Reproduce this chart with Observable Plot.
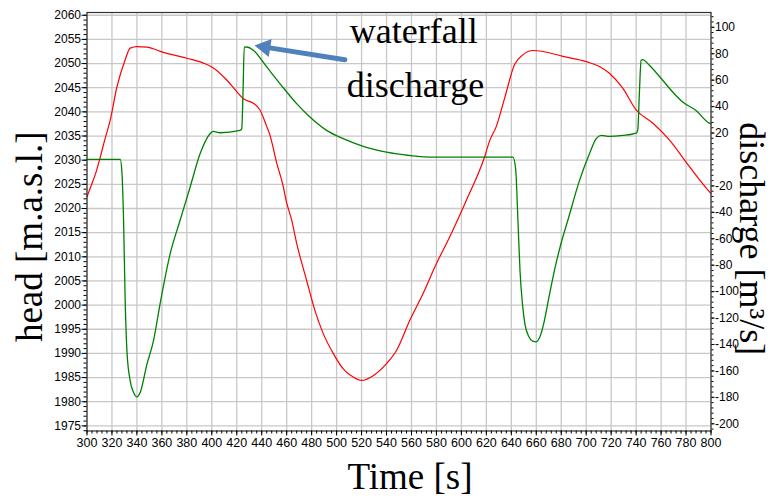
<!DOCTYPE html>
<html><head><meta charset="utf-8">
<script src="https://cdn.jsdelivr.net/npm/d3@7"></script>
<script src="https://cdn.jsdelivr.net/npm/@observablehq/plot@0.6"></script>
<style>html,body{margin:0;padding:0;background:#fff}#chart svg{display:block}</style>
</head><body><div id="chart"></div>
<script>
// head [m.a.s.l.] (red, left axis)
const headTime = [300,303,306.6,310.7,314,318.6,324,330.6,334.6,340,348,361.3,380,393.3,401.3,412,420,425.3,433.3,438.6,444,446.6,452,457.3,459.5,464,468,476,482.6,489.3,497.3,505.3,513.3,520,529.3,540,548,558.6,569.3,580,590.6,604,618.6,622.6,628,634.6,642.6,649.3,657.3,665.3,681.3,700,710.6,718.6,729.3,740,753.3,766.6,782.6,798.6,800];
const headValue = [2022.4,2024.5,2027,2030.7,2034,2038.3,2045.2,2050.8,2053.2,2053.5,2053.4,2052.3,2051.1,2050.1,2049.1,2046.6,2044.2,2042.7,2041.8,2040.4,2037,2035.2,2029.4,2024.5,2021.7,2017.6,2012.8,2005.1,1998.9,1994.1,1990,1986.8,1985.1,1984.4,1985.4,1987.9,1990.6,1996.8,2002.4,2008.6,2014.1,2021.7,2030.7,2034,2037,2042.8,2049.8,2051.8,2052.7,2052.5,2051.5,2050.4,2049.4,2048,2044.9,2040.4,2037.7,2034.2,2028.7,2023.5,2023.1];
// discharge [m3/s] (green, right axis)
const flowTime = [300,326.6,328,329.3,330.6,332,334.6,337.3,340,342.6,348,353.3,358.6,366.6,374.6,382.6,390.6,398.6,401.3,406.6,422.6,424,425,426,428,433.3,444,454.6,468,478.6,492,505.3,521.3,540,558.6,577.3,641.3,643.5,645.3,647,649,651,654,657,660,663,666,670,675,680,685.3,694.6,702.6,708,712,718.6,729.3,740,741.3,742.6,744,745.3,750.6,761.3,769.3,777.3,788,798.6,800];
const flowValue = [0,0,-10,-46,-107,-145,-167.5,-176.4,-179.7,-176.4,-155,-137,-109,-71.5,-46,-21,4.3,19.5,21.2,20.2,22,23.3,50,85,85.1,82.6,70,57.4,42.2,32.1,22,15.7,9.9,5.5,3,1.7,1.7,-7.6,-46,-85,-110,-125,-134,-137.5,-138,-134,-124,-105,-82,-63,-46,-16,4.3,15.7,18.2,17.4,18.2,20,22,50,75,75.6,71.3,59.9,51,43.4,37.1,27.5,27];

const timeTicks = d3.range(300, 801, 20);
const timeMinor = d3.range(300, 801, 4);
const headTicks = d3.range(1975, 2061, 5);
const headMinor = d3.range(1974, 2061, 1);
const flowTicks = [100,80,60,40,20,-20,-40,-60,-80,-100,-120,-140,-160,-180,-200];
const flowMinor = d3.range(-204, 112, 4);

const annotationLines = ["waterfall", "discharge"];
const annotationTime = [510.6, 508.2];
const annotationHead = [2056.6, 2045.4];
const arrowTime = [506.6, 442.6];
const arrowHead = [2050.77, 2053.4];

// right axis (discharge) aligned onto the head scale
const flowZero = 2030.15, flowK = 0.2736;
const flowToHead = q => flowZero + q * flowK;
const headToFlow = h => (h - flowZero) / flowK;

const headRows = headTime.map((t, i) => ({t, v: headValue[i]}));
const flowRows = flowTime.map((t, i) => ({t, v: flowToHead(flowValue[i])}));
const noteRows = annotationLines.map((s, i) => ({s, t: annotationTime[i], v: annotationHead[i]}));
const arrowRows = arrowTime.map((t, i) => ({t, v: arrowHead[i]}));

const serif = "'Liberation Serif','Times New Roman',serif";
const grid = "#c8c8c8";

const chart = Plot.plot({
  width: 773, height: 497,
  marginLeft: 86.5, marginRight: 62.5, marginTop: 12, marginBottom: 66.5,
  style: {fontFamily: "'Liberation Sans', Arial, sans-serif", background: "#fff", color: "#000"},
  x: {domain: [300, 800]},
  y: {domain: [1973.94, 2060.57]},
  marks: [
    Plot.gridY(headTicks, {stroke: grid, strokeOpacity: 1, strokeWidth: 1.3}),
    Plot.gridX(timeTicks, {stroke: grid, strokeOpacity: 1, strokeWidth: 1.3}),
    Plot.line(headRows, {x: "t", y: "v", stroke: "#ff0000", strokeWidth: 1.2, curve: "monotone-x"}),
    Plot.line(flowRows, {x: "t", y: "v", stroke: "#008000", strokeWidth: 1.3, curve: "monotone-x"}),
    Plot.frame({stroke: "#333", strokeWidth: 1.2}),
    Plot.axisX(timeTicks, {tickSize: 5, tickPadding: 2, fontSize: 12.5, label: null, tickFormat: d => String(d)}),
    Plot.axisX(timeMinor, {tickSize: 3, label: null, tickFormat: () => ""}),
    Plot.axisY(headTicks, {anchor: "left", tickSize: 5, tickPadding: 1, fontSize: 12, label: null, tickFormat: d => String(d)}),
    Plot.axisY(headMinor, {anchor: "left", tickSize: 3, label: null, tickFormat: () => ""}),
    Plot.axisY(flowTicks.map(flowToHead), {anchor: "right", tickSize: 3, tickPadding: 1, fontSize: 12, label: null, tickFormat: v => String(Math.round(headToFlow(v)))}),
    Plot.axisY(flowMinor.map(flowToHead), {anchor: "right", tickSize: 2, label: null, tickFormat: () => ""}),
    Plot.line(arrowRows, {x: "t", y: "v", stroke: "#4f81bd", strokeWidth: 5}),
    Plot.dot(arrowRows.slice(1), {x: "t", y: "v", symbol: "triangle", r: 6.8, rotate: -81, fill: "#4f81bd", stroke: null}),
    Plot.text(noteRows, {x: "t", y: "v", text: "s", textAnchor: "start", fontSize: 36, fontFamily: serif, fill: "#000"}),
    Plot.text(["head [m.a.s.l.]"], {frameAnchor: "left", textAnchor: "middle", lineAnchor: "middle", rotate: -90, dx: -57, dy: 15, fontSize: 37, fontFamily: serif, fill: "#000"}),
    Plot.text(["discharge [m³/s]"], {frameAnchor: "right", textAnchor: "middle", lineAnchor: "middle", rotate: 90, dx: 41, dy: 17, fontSize: 36, fontFamily: serif, fill: "#000"}),
    Plot.text(["Time [s]"], {frameAnchor: "bottom", textAnchor: "middle", lineAnchor: "middle", dx: 11, dy: 46, fontSize: 37, fontFamily: serif, fill: "#000"})
  ]
});
document.getElementById("chart").append(chart);
</script>
</body></html>
